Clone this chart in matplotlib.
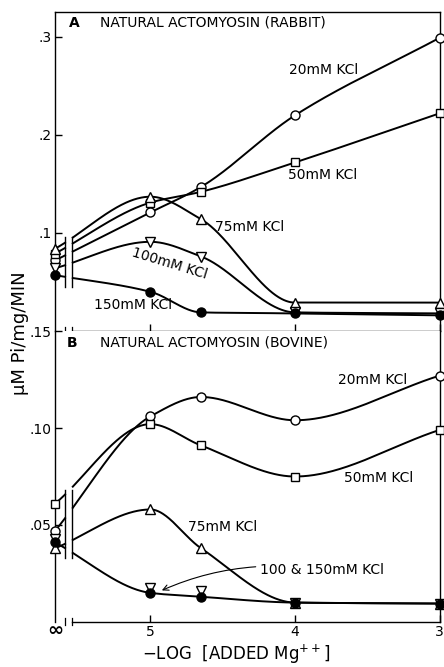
import numpy as np
import matplotlib.pyplot as plt

plt.rcParams['font.family'] = ['DejaVu Sans']
plt.rcParams['mathtext.default'] = 'regular'

# x positions: -log[Mg++]; the "no Mg added" point sits on the left spine
X_INF = 5.66
X_B1, X_B2 = 5.59, 5.54   # axis break
log_mg = [X_INF, 5.0, 4.65, 4.0, 3.0]

# A: natural actomyosin, rabbit
rab_20 = [0.072, 0.121, 0.147, 0.220, 0.299]
rab_50 = [0.079, 0.131, 0.142, 0.172, 0.222]
rab_75 = [0.084, 0.137, 0.114, 0.029, 0.029]
rab_100 = [0.064, 0.091, 0.076, 0.019, 0.018]
rab_150 = [0.057, 0.040, 0.019, 0.018, 0.016]

# B: natural actomyosin, bovine
bov_20 = [0.047, 0.106, 0.116, 0.104, 0.127]
bov_50 = [0.061, 0.102, 0.091, 0.075, 0.099]
bov_75 = [0.038, 0.058, 0.038, 0.010, 0.0095]
bov_100 = [0.043, 0.0175, 0.016, 0.010, 0.0095]
bov_150 = [0.041, 0.015, 0.013, 0.010, 0.0095]


def pchip(xs, ys, xn):
    """monotone cubic through the points, gives the hand drawn look"""
    order = np.argsort(xs)
    x = np.asarray(xs, float)[order]
    y = np.asarray(ys, float)[order]
    h = np.diff(x)
    d = np.diff(y) / h
    m = np.zeros_like(y)
    m[0], m[-1] = d[0], d[-1]
    for k in range(1, len(x) - 1):
        if d[k - 1] * d[k] > 0:
            w1 = 2 * h[k] + h[k - 1]
            w2 = h[k] + 2 * h[k - 1]
            m[k] = (w1 + w2) / (w1 / d[k - 1] + w2 / d[k])
    i = np.clip(np.searchsorted(x, xn) - 1, 0, len(x) - 2)
    t = (xn - x[i]) / h[i]
    h00 = 2 * t**3 - 3 * t**2 + 1
    h10 = t**3 - 2 * t**2 + t
    h01 = -2 * t**3 + 3 * t**2
    h11 = t**3 - t**2
    return h00 * y[i] + h10 * h[i] * m[i] + h01 * y[i + 1] + h11 * h[i] * m[i + 1]


def draw(ax, ys, marker, face='white', line=True, ms=6.5, z=3):
    xn = np.linspace(3.0, X_INF, 500)
    yn = pchip(log_mg, ys, xn)
    yn[(xn > X_B2) & (xn < X_B1)] = np.nan
    if line:
        ax.plot(xn, yn, color='black', lw=1.4, zorder=2, clip_on=False)
    ax.plot(log_mg, ys, ls='none', marker=marker, ms=ms, mfc=face, mec='black',
            mew=1.0, zorder=z, clip_on=False)


def setup(ax, ymax, yticks, ylabels):
    ax.set_xlim(X_INF, 3.0)
    ax.set_ylim(0, ymax)
    ax.set_xticks([5, 4, 3])
    ax.set_yticks(yticks)
    ax.set_yticklabels(ylabels)
    ax.tick_params(direction='in', length=5, width=1, labelsize=10, pad=2.5)
    ax.tick_params(axis='x', pad=2.5)
    for s in ax.spines.values():
        s.set_linewidth(1.0)
    ax.spines['bottom'].set_bounds(3.0, X_B2)
    # break marks on the x axis
    tr = ax.get_xaxis_transform()
    for xb in (X_B1, X_B2):
        ax.plot([xb, xb], [-0.012, 0.012], color='black', lw=0.9,
                transform=tr, clip_on=False)


fig = plt.figure(figsize=(4.44, 6.67), dpi=100)
axA = fig.add_axes([0.124, 0.5037, 0.866, 0.4785])
axB = fig.add_axes([0.124, 0.0675, 0.866, 0.4362])

setup(axA, 0.3255, [0.1, 0.2, 0.3], ['.1', '.2', '.3'])
setup(axB, 0.15, [0.05, 0.10, 0.15], ['.05', '.10', '.15'])
axA.set_xticklabels([])
axB.set_xticklabels(['5', '4', '3'])
axB.spines['top'].set_visible(False)

# panel A curves
draw(axA, rab_20, 'o')
draw(axA, rab_50, 's', ms=6)
draw(axA, rab_75, '^', ms=7)
draw(axA, rab_100, 'v', ms=7)
draw(axA, rab_150, 'o', face='black', z=4)

# panel B curves (100 and 150 share one line)
draw(axB, bov_20, 'o')
draw(axB, bov_50, 's', ms=6)
draw(axB, bov_75, '^', ms=7)
draw(axB, bov_100, 'v', line=False, ms=7)
draw(axB, bov_150, 'o', face='black', z=4)

# the break drawn through the lines near the infinity points
for ax, lo, hi in ((axA, 0.045, 0.096), (axB, 0.033, 0.068)):
    for xb in (X_B1, X_B2):
        ax.plot([xb, xb], [lo, hi], color='black', lw=1.0, zorder=2)

# panel headings
axA.text(0.035, 0.9655, 'A', transform=axA.transAxes, fontsize=10,
         fontweight='bold', va='center')
axA.text(0.117, 0.9655, 'NATURAL ACTOMYOSIN (RABBIT)', transform=axA.transAxes,
         fontsize=10, va='center')
axB.text(0.03, 0.959, 'B', transform=axB.transAxes, fontsize=10,
         fontweight='bold', va='center')
axB.text(0.117, 0.959, 'NATURAL ACTOMYOSIN (BOVINE)', transform=axB.transAxes,
         fontsize=10, va='center')

lab = dict(fontsize=10, ha='center', va='center')
axA.text(3.80, 0.266, '20mM KCl', **lab)
axA.text(3.81, 0.159, '50mM KCl', **lab)
axA.text(4.315, 0.106, '75mM KCl', **lab)
axA.text(4.87, 0.069, '100mM KCl', rotation=-17, **lab)
axA.text(5.12, 0.0265, '150mM KCl', **lab)

axB.text(3.46, 0.1247, '20mM KCl', **lab)
axB.text(3.42, 0.0742, '50mM KCl', **lab)
axB.text(4.50, 0.049, '75mM KCl', **lab)
axB.annotate('100 & 150mM KCl', xy=(4.93, 0.016), xytext=(4.243, 0.0268),
             fontsize=10, ha='left', va='center',
             arrowprops=dict(arrowstyle='->', lw=0.8, color='black',
                             connectionstyle='arc3,rad=0.15', shrinkA=1, shrinkB=1))

axB.text(X_INF, -0.0042, '\u221e', ha='center', va='center', fontsize=14,
         fontweight='bold')

fig.text(0.045, 0.50, '\u03bcM Pi/mg/MIN', rotation=90, ha='center', va='center',
         fontsize=13)
fig.text(0.532, 0.019, r'$-$LOG  $\left[\mathrm{ADDED\ Mg^{++}}\right]$',
         ha='center', va='center', fontsize=12)

fig.savefig('out.png', dpi=100)
